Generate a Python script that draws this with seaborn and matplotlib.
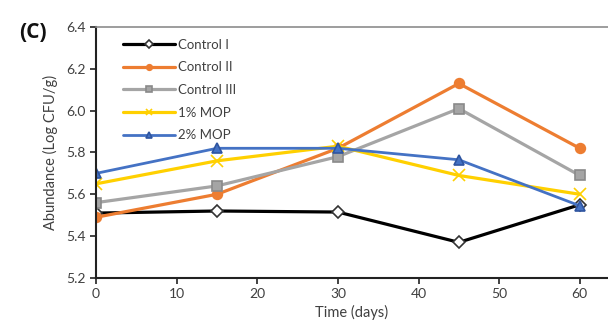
import numpy as np
import pandas as pd
import matplotlib
matplotlib.use("Agg")
import matplotlib.pyplot as plt
import seaborn as sns

days = [0, 15, 30, 45, 60]
control_1 = [5.51, 5.52, 5.515, 5.37, 5.55]
control_2 = [5.49, 5.60, 5.82, 6.13, 5.82]
control_3 = [5.56, 5.64, 5.78, 6.01, 5.69]
mop_1 = [5.65, 5.76, 5.83, 5.69, 5.60]
mop_2 = [5.70, 5.82, 5.82, 5.765, 5.545]
series_names = ["Control I", "Control II", "Control III", "1% MOP", "2% MOP"]

sns.set_style("white")
plt.rcParams["font.family"] = ["Lato", "DejaVu Sans"]

df = pd.DataFrame({
    "Time": days * 5,
    "Abundance": control_1 + control_2 + control_3 + mop_1 + mop_2,
    "Group": [n for n in series_names for _ in days],
})

styles = {
    "Control I": dict(color="#000000", marker="D", mfc="white", mec="#333333", ms=6.5, lw=2.3),
    "Control II": dict(color="#ED7D31", marker="o", mfc="#ED7D31", mec="#ED7D31", ms=7, lw=2.3),
    "Control III": dict(color="#A5A5A5", marker="s", mfc="#A5A5A5", mec="#8A8A8A", ms=7, lw=2.3),
    "1% MOP": dict(color="#FFD000", marker="x", mfc="#FFD000", mec="#FFD000", ms=8, lw=2.3),
    "2% MOP": dict(color="#4472C4", marker="^", mfc="#4472C4", mec="#2F55A0", ms=7, lw=2.0),
}

fig = plt.figure(figsize=(6.08, 3.34), dpi=100)
ax = fig.add_axes([0.158, 0.168, 0.842, 0.751])

for name in series_names:
    st = styles[name]
    sub = df[df["Group"] == name]
    sns.lineplot(data=sub, x="Time", y="Abundance", ax=ax, color=st["color"],
                 marker=st["marker"], markerfacecolor=st["mfc"],
                 markeredgecolor=st["mec"], markersize=st["ms"],
                 markeredgewidth=1.2, linewidth=st["lw"], label=name)

ax.set_xlim(0, 63.5)
ax.set_ylim(5.2, 6.4)
ax.set_xticks(range(0, 61, 10))
ax.set_yticks(np.arange(5.2, 6.41, 0.2))
ax.set_yticklabels([f"{v:.1f}" for v in np.arange(5.2, 6.41, 0.2)])
ax.tick_params(axis="both", direction="out", length=4, width=1.2, colors="#222222",
               labelsize=10, labelcolor="#404040", left=True, bottom=True)
for s in ["left", "bottom"]:
    ax.spines[s].set_color("#222222")
    ax.spines[s].set_linewidth(1.5)
ax.spines["top"].set_color("#8C8C8C")
ax.spines["top"].set_linewidth(1.2)
ax.spines["right"].set_visible(False)

ax.set_xlabel("Time (days)", fontsize=10.5, color="#404040", labelpad=3)
ax.set_ylabel("Abundance (Log CFU/g)", fontsize=10.5, color="#404040", labelpad=6)

leg = ax.legend(loc="upper left", bbox_to_anchor=(0.03, 1.0), frameon=False,
                fontsize=9.5, handlelength=3.9, labelspacing=0.8, handletextpad=0.25)
for t in leg.get_texts():
    t.set_color("#404040")
for h in leg.legend_handles:
    h.set_markersize(4)

fig.text(0.032, 0.885, "(C)", fontsize=15, fontweight="bold", color="#111111",
         family=["Open Sans", "DejaVu Sans"])

fig.savefig("out.png", dpi=100)
